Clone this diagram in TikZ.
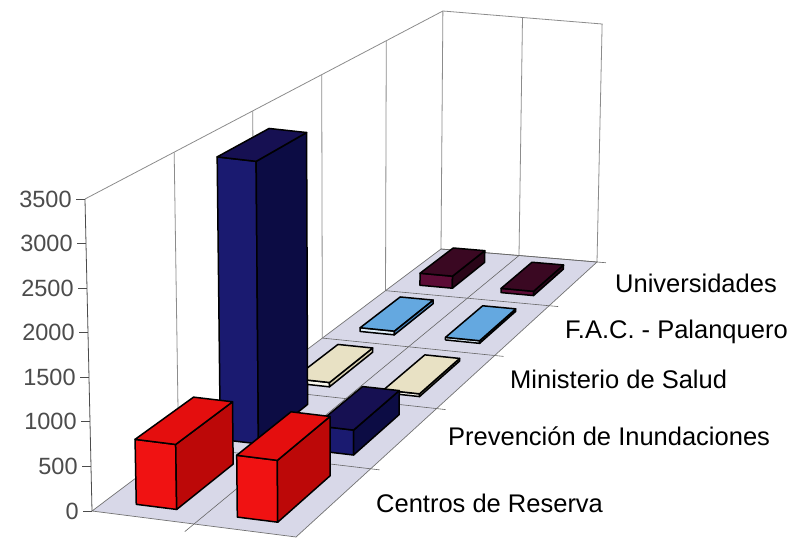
\documentclass[tikz,border=0pt]{standalone}
\usepackage{fontspec}
\setmainfont{Liberation Sans}
\usetikzlibrary{calc}

\definecolor{floorc}{RGB}{216,216,232}
\definecolor{redF}{RGB}{240,18,18}
\definecolor{redT}{RGB}{228,14,14}
\definecolor{redS}{RGB}{188,8,8}
\definecolor{navyF}{RGB}{26,26,112}
\definecolor{navyT}{RGB}{22,16,82}
\definecolor{navyS}{RGB}{12,12,68}
\definecolor{beigeF}{RGB}{250,248,238}
\definecolor{beigeT}{RGB}{232,225,196}
\definecolor{beigeS}{RGB}{214,206,176}
\definecolor{blueF}{RGB}{226,240,250}
\definecolor{blueT}{RGB}{100,168,224}
\definecolor{blueS}{RGB}{70,130,186}
\definecolor{marF}{RGB}{92,12,54}
\definecolor{marT}{RGB}{58,8,34}
\definecolor{marS}{RGB}{42,5,24}

% projection: #1 name, #2 u (0..2), #3 depth t (0..1), #4 value
\newcommand\mkpt[4]{%
  \pgfmathsetmacro\mkFX{92+102*(#2)}%
  \pgfmathsetmacro\mkFY{511+13*(#2)}%
  \pgfmathsetmacro\mkBX{441+78*(#2)}%
  \pgfmathsetmacro\mkBY{249+6.5*(#2)}%
  \pgfmathsetmacro\mkPX{(1-(#3))*\mkFX+(#3)*\mkBX}%
  \pgfmathsetmacro\mkPY{(1-(#3))*\mkFY+(#3)*\mkBY}%
  \pgfmathsetmacro\mkHP{(#4)/3500*(312-74*(#3))}%
  \pgfmathsetmacro\mkQX{\mkPX+(\mkPX-350)/1000*\mkHP*0.087}%
  \pgfmathsetmacro\mkQY{\mkPY-\mkHP}%
  \coordinate (#1) at (\mkQX,\mkQY);%
}

% bar: #1 prefix, #2 u0, #3 u1, #4 t0, #5 t1, #6 value, #7 front, #8 top, #9 side
\newcommand\drawbar[9]{%
  \mkpt{#1a}{#2}{#4}{0}\mkpt{#1b}{#3}{#4}{0}\mkpt{#1c}{#3}{#5}{0}%
  \mkpt{#1A}{#2}{#4}{#6}\mkpt{#1B}{#3}{#4}{#6}\mkpt{#1C}{#3}{#5}{#6}\mkpt{#1D}{#2}{#5}{#6}%
  \filldraw[barline,fill=#7] (#1a)--(#1b)--(#1B)--(#1A)--cycle;
  \filldraw[barline,fill=#9] (#1b)--(#1c)--(#1C)--(#1B)--cycle;
  \filldraw[barline,fill=#8] (#1A)--(#1B)--(#1C)--(#1D)--cycle;
}

\begin{document}
\begin{tikzpicture}[x=1pt,y=-1pt,
  barline/.style={draw=black,line width=1.5pt,line join=round},
  wall/.style={draw=black!45,line width=0.8pt},
  gridl/.style={draw=black!60,line width=0.6pt},
  lab/.style={font=\fontsize{25.5}{30}\selectfont,anchor=base west,inner sep=0pt},
  tlab/.style={font=\fontsize{23.5}{28}\selectfont,anchor=east,inner sep=0pt}]
\useasboundingbox[fill=white] (0,0) rectangle (792,538);

% walls
\mkpt{O}{0}{0}{0}\mkpt{OT}{0}{0}{3500}
\mkpt{L}{0}{1}{0}\mkpt{LT}{0}{1}{3500}
\mkpt{R}{2}{1}{0}\mkpt{RT}{2}{1}{3500}
\mkpt{F}{2}{0}{0}
\mkpt{M}{1}{1}{0}\mkpt{MT}{1}{1}{3500}
\draw[wall] (OT)--(LT)--(RT)--(R);
\draw[wall] (L)--(LT);
\draw[wall] (M)--(MT);
\foreach \tv [count=\i] in {0.248,0.467,0.66,0.841}{%
  \mkpt{w\i}{0}{\tv}{0}\mkpt{wt\i}{0}{\tv}{3500}
  \draw[wall] (w\i)--(wt\i);
}

% floor
\filldraw[fill=floorc,draw=black!55,line width=0.7pt] (O)--(F)--(R)--(L)--cycle;
\foreach \tv [count=\i] in {0.248,0.467,0.66,0.841,1}{%
  \mkpt{s\i a}{0}{\tv}{0}\mkpt{s\i b}{2}{\tv}{0}
  \draw[gridl] (s\i a)--($(s\i b)!-9pt!(s\i a)$);
}
\mkpt{c0}{1}{0}{0}\mkpt{c1}{1}{1}{0}
\draw[gridl] ($(c0)!-12pt!(c1)$)--(c1);

% value axis
\draw[black!70,line width=0.8pt] (O)--(OT);
\foreach \v in {0,500,...,3500}{%
  \mkpt{tk\v}{0}{0}{\v}
  \draw[black!70,line width=0.8pt] (tk\v)--++(-9,0) node[tlab,xshift=-4pt] (tl\v) {\v};
}

% bars, back to front
\drawbar{m1}{0.3}{0.7}{0.87}{0.967}{170}{marF}{marT}{marS}
\drawbar{m2}{1.3}{1.7}{0.87}{0.967}{60}{marF}{marT}{marS}
\drawbar{f1}{0.3}{0.7}{0.695}{0.812}{50}{blueF}{blueT}{blueS}
\drawbar{f2}{1.3}{1.7}{0.695}{0.812}{35}{blueF}{blueT}{blueS}
\drawbar{s1}{0.3}{0.7}{0.50}{0.63}{55}{beigeF}{beigeT}{beigeS}
\drawbar{s2}{1.3}{1.7}{0.50}{0.63}{35}{beigeF}{beigeT}{beigeS}
\drawbar{p1}{0.3}{0.7}{0.286}{0.434}{3400}{navyF}{navyT}{navyS}
\drawbar{p2}{1.3}{1.7}{0.286}{0.434}{300}{navyF}{navyT}{navyS}
\drawbar{r1}{0.3}{0.7}{0.04}{0.21}{736}{redF}{redT}{redS}
\drawbar{r2}{1.3}{1.7}{0.04}{0.21}{700}{redF}{redT}{redS}

% series labels
\node[lab] (l1) at (376,512) {Centros de Reserva};
\node[lab] (l2) at (448,445) {Prevención de Inundaciones};
\node[lab] (l3) at (510,388) {Ministerio de Salud};
\node[lab] (l4) at (565,338) {F.A.C. - Palanquero};
\node[lab] (l5) at (615,292) {Universidades};
\end{tikzpicture}
\end{document}
